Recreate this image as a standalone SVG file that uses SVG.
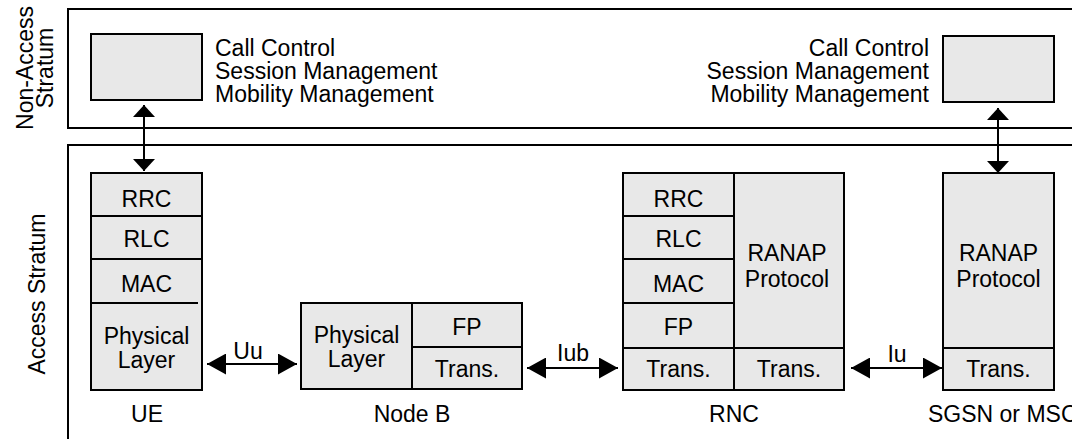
<svg xmlns="http://www.w3.org/2000/svg" width="1072" height="439" viewBox="0 0 1072 439">
<style>
.frame{fill:#fff;stroke:#000;stroke-width:2}
.box{fill:#e8e8e8;stroke:#000;stroke-width:2}
.ln{stroke:#000;stroke-width:2;fill:none}
.t{font-family:"Liberation Sans",Arial,sans-serif;font-size:23px;fill:#000}
.m{text-anchor:middle}
.e{text-anchor:end}
</style>
<defs>
<marker id="ah" markerUnits="userSpaceOnUse" markerWidth="19" markerHeight="21" refX="19" refY="10.5" orient="auto-start-reverse"><path d="M0,0 L19,10.5 L0,21 Z" fill="#000"/></marker>
<marker id="av" markerUnits="userSpaceOnUse" markerWidth="12" markerHeight="22" refX="12" refY="11" orient="auto-start-reverse"><path d="M0,0 L12,11 L0,22 Z" fill="#000"/></marker>
</defs>
<rect width="1072" height="439" fill="#fff"/>
<g id="non-access-stratum">
<rect class="frame" x="68" y="9" width="1020" height="119"/>
<text class="t m" transform="translate(33,68) rotate(-90)">Non-Access</text>
<text class="t m" transform="translate(53,68) rotate(-90)">Stratum</text>
</g>
<g id="access-stratum">
<rect class="frame" x="68" y="145" width="1020" height="310"/>
<text class="t m" transform="translate(45,294) rotate(-90)">Access Stratum</text>
</g>
<g id="nas-ue">
<rect class="box" x="91" y="34" width="111" height="66"/>
<text class="t" x="215" y="56">Call Control</text>
<text class="t" x="215" y="79">Session Management</text>
<text class="t" x="215" y="102">Mobility Management</text>
</g>
<g id="nas-cn">
<rect class="box" x="943" y="36" width="111" height="66"/>
<text class="t e" x="929" y="56">Call Control</text>
<text class="t e" x="929" y="79">Session Management</text>
<text class="t e" x="929" y="102">Mobility Management</text>
</g>
<g id="ue">
<rect class="box" x="91" y="173" width="111" height="217"/>
<line class="ln" x1="91" y1="216" x2="202" y2="216"/>
<line class="ln" x1="91" y1="259" x2="202" y2="259"/>
<line class="ln" x1="91" y1="303" x2="198" y2="303"/>
<text class="t m" x="146.5" y="207">RRC</text>
<text class="t m" x="146.5" y="247">RLC</text>
<text class="t m" x="146.5" y="292">MAC</text>
<text class="t m" x="146.5" y="344">Physical</text>
<text class="t m" x="146.5" y="368">Layer</text>
<text class="t m" x="147" y="422">UE</text>
</g>
<g id="node-b">
<rect class="box" x="301" y="303" width="221" height="86"/>
<line class="ln" x1="412" y1="303" x2="412" y2="389"/>
<line class="ln" x1="412" y1="347" x2="522" y2="347"/>
<text class="t m" x="356.5" y="343">Physical</text>
<text class="t m" x="356.5" y="367">Layer</text>
<text class="t m" x="467" y="335">FP</text>
<text class="t m" x="467" y="377">Trans.</text>
<text class="t m" x="412" y="422">Node B</text>
</g>
<g id="rnc">
<rect class="box" x="623" y="173" width="221" height="217"/>
<line class="ln" x1="734" y1="173" x2="734" y2="390"/>
<line class="ln" x1="623" y1="216" x2="734" y2="216"/>
<line class="ln" x1="623" y1="259" x2="734" y2="259"/>
<line class="ln" x1="623" y1="303" x2="734" y2="303"/>
<line class="ln" x1="623" y1="348" x2="844" y2="348"/>
<text class="t m" x="678.5" y="207">RRC</text>
<text class="t m" x="678.5" y="247">RLC</text>
<text class="t m" x="678.5" y="292">MAC</text>
<text class="t m" x="678.5" y="335">FP</text>
<text class="t m" x="678.5" y="377">Trans.</text>
<text class="t m" x="787" y="261">RANAP</text>
<text class="t m" x="787" y="287">Protocol</text>
<text class="t m" x="789" y="377">Trans.</text>
<text class="t m" x="734" y="422">RNC</text>
</g>
<g id="sgsn-msc">
<rect class="box" x="943" y="173" width="111" height="217"/>
<line class="ln" x1="943" y1="348" x2="1054" y2="348"/>
<text class="t m" x="998.5" y="261">RANAP</text>
<text class="t m" x="998.5" y="287">Protocol</text>
<text class="t m" x="998.5" y="377">Trans.</text>
<text class="t" x="928" y="422">SGSN or MSC</text>
</g>
<g id="connectors">
<line class="ln" x1="144" y1="105" x2="144" y2="171" marker-start="url(#av)" marker-end="url(#av)"/>
<line class="ln" x1="998" y1="108" x2="998" y2="173" marker-start="url(#av)" marker-end="url(#av)"/>
<line class="ln" x1="207" y1="364" x2="297" y2="364" marker-start="url(#ah)" marker-end="url(#ah)"/>
<text class="t m" x="248" y="359">Uu</text>
<line class="ln" x1="527" y1="368" x2="618" y2="368" marker-start="url(#ah)" marker-end="url(#ah)"/>
<text class="t m" x="573" y="361">Iub</text>
<line class="ln" x1="851" y1="368" x2="942" y2="368" marker-start="url(#ah)" marker-end="url(#ah)"/>
<text class="t m" x="897" y="362">Iu</text>
</g>
</svg>
